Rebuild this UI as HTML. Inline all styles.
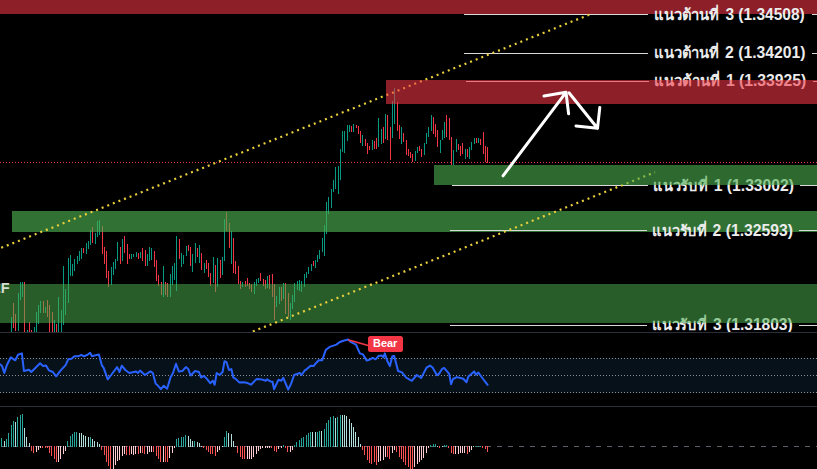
<!DOCTYPE html><html><head><meta charset="utf-8"><style>html,body{margin:0;padding:0;background:#000;width:817px;height:469px;overflow:hidden}svg{display:block;font-family:"Liberation Sans",sans-serif}</style></head><body>
<svg width="817" height="469" viewBox="0 0 817 469">
<defs><clipPath id="cm"><rect x="0" y="0" width="817" height="332"/></clipPath><clipPath id="cr"><rect x="0" y="333" width="817" height="73"/></clipPath><clipPath id="cd"><rect x="0" y="407" width="817" height="62"/></clipPath></defs>
<rect x="0" y="0" width="817" height="469" fill="#000"/>
<g clip-path="url(#cm)">
<g shape-rendering="crispEdges">
<line x1="0" y1="162.5" x2="817" y2="162.5" stroke="#f23645" stroke-width="1" stroke-dasharray="1 2"/>
<path d="M11.5 317V332M18.5 293V331M20.5 282V300M22.5 282V297M27.5 330V332M34.5 327V332M36.5 312V332M38.5 305V324M40.5 301V313M45.5 307V313M54.5 320V332M58.5 297V332M61.5 310V332M63.5 266V325M65.5 289V315M68.5 258V303M70.5 255V276M72.5 264V276M74.5 259V271M77.5 256V264M79.5 251V261M81.5 248V259M86.5 243V254M88.5 241V249M90.5 230V245M95.5 233V244M97.5 221V237M99.5 220V235M111.5 267V285M113.5 262V275M115.5 259V269M117.5 242V261M122.5 239V261M131.5 254V259M133.5 254V257M136.5 252V257M140.5 252V258M147.5 254V266M149.5 247V261M151.5 248V260M163.5 266V297M170.5 274V297M172.5 266V285M174.5 263V280M176.5 236V291M181.5 253V267M183.5 255V264M186.5 246V256M192.5 254V272M195.5 243V263M199.5 245V263M204.5 263V273M213.5 257V283M217.5 258V287M222.5 257V275M224.5 219V261M231.5 231V264M242.5 282V287M254.5 282V294M256.5 279V286M258.5 278V283M267.5 276V288M276.5 296V307M279.5 287V304M283.5 283V299M290.5 303V320M292.5 295V309M294.5 283V302M297.5 281V290M299.5 280V291M301.5 281V292M304.5 274V287M306.5 272V278M308.5 267V274M311.5 264V271M315.5 260V268M317.5 255V262M319.5 250V259M322.5 238V252M324.5 225V256M326.5 202V234M328.5 197V214M331.5 189V208M333.5 180V192M335.5 167V189M338.5 166V194M340.5 149V180M342.5 131V152M344.5 131V153M347.5 125V141M349.5 125V132M353.5 124V132M362.5 135V146M372.5 140V150M378.5 118V147M381.5 129V144M385.5 114V139M392.5 101V138M394.5 88V124M401.5 127V144M415.5 151V161M417.5 147V153M424.5 143V155M426.5 133V144M428.5 127V137M431.5 115V131M440.5 140V153M442.5 130V140M444.5 122V138M453.5 150V165M456.5 139V152M465.5 149V159M469.5 147V159M471.5 142V150M474.5 138V144M478.5 138V143" stroke="#089981" stroke-width="1" fill="none"/>
<path d="M13.5 303V328M15.5 314V331M24.5 282V332M29.5 322V332M31.5 330V332M43.5 301V313M47.5 300V317M49.5 305V332M52.5 312V332M56.5 324V332M83.5 248V253M92.5 227V243M102.5 226V254M104.5 247V264M106.5 251V278M108.5 271V287M120.5 247V264M124.5 236V253M127.5 244V264M129.5 254V259M138.5 253V259M142.5 248V261M145.5 250V266M154.5 251V267M156.5 260V281M158.5 275V286M161.5 282V295M165.5 282V295M167.5 283V297M179.5 239V259M188.5 245V251M190.5 247V266M197.5 248V257M201.5 253V270M206.5 260V269M208.5 263V277M210.5 273V286M215.5 265V292M220.5 260V278M226.5 212V231M229.5 223V248M233.5 238V273M235.5 261V274M238.5 266V284M240.5 281V289M245.5 281V287M247.5 278V286M249.5 283V289M251.5 284V292M260.5 273V281M263.5 279V286M265.5 280V289M269.5 275V289M272.5 274V297M274.5 284V320M281.5 287V301M285.5 283V314M288.5 293V317M313.5 261V266M351.5 126V132M356.5 125V128M358.5 126V134M360.5 131V143M365.5 139V146M367.5 143V154M369.5 146V150M374.5 141V149M376.5 138V149M383.5 127V143M387.5 115V140M390.5 127V160M397.5 102V131M399.5 125V139M403.5 133V142M406.5 140V155M408.5 149V156M410.5 152V158M412.5 154V162M419.5 146V151M421.5 149V157M433.5 117V134M435.5 124V137M437.5 130V147M446.5 115V137M449.5 118V140M451.5 137V165M458.5 144V150M460.5 146V156M462.5 143V154M467.5 149V157M476.5 138V143M480.5 139V145M483.5 132V154M485.5 146V162M487.5 147V163" stroke="#f23645" stroke-width="1" fill="none"/>
</g>
<rect x="12" y="211" width="805" height="21" fill="rgba(76,175,80,0.65)" shape-rendering="crispEdges"/>
<rect x="0" y="0" width="817" height="14" fill="rgba(242,54,69,0.58)" shape-rendering="crispEdges"/>
<g shape-rendering="crispEdges">
<line x1="464" y1="14.5" x2="648" y2="14.5" stroke="#d9d9d9" stroke-width="1"/>
<line x1="811.5" y1="14.5" x2="817" y2="14.5" stroke="#d9d9d9" stroke-width="1"/>
<line x1="464" y1="53.5" x2="648" y2="53.5" stroke="#d9d9d9" stroke-width="1"/>
<line x1="811.5" y1="53.5" x2="817" y2="53.5" stroke="#d9d9d9" stroke-width="1"/>
<line x1="466" y1="81.5" x2="649" y2="81.5" stroke="#d9d9d9" stroke-width="1"/>
<line x1="812.5" y1="81.5" x2="817" y2="81.5" stroke="#d9d9d9" stroke-width="1"/>
<line x1="452" y1="185.5" x2="648" y2="185.5" stroke="#d9d9d9" stroke-width="1"/>
<line x1="800" y1="185.5" x2="817" y2="185.5" stroke="#d9d9d9" stroke-width="1"/>
<line x1="450" y1="230.5" x2="647" y2="230.5" stroke="#d9d9d9" stroke-width="1"/>
<line x1="799" y1="230.5" x2="817" y2="230.5" stroke="#d9d9d9" stroke-width="1"/>
<line x1="450" y1="325.5" x2="647" y2="325.5" stroke="#d9d9d9" stroke-width="1"/>
<line x1="799" y1="325.5" x2="817" y2="325.5" stroke="#d9d9d9" stroke-width="1"/>
</g>
<g font-weight="bold" fill="#ececec">
<text x="653.9" y="20" font-size="15" textLength="65.1" lengthAdjust="spacingAndGlyphs">แนวต้านที่</text>
<text x="725.4" y="20" font-size="16" textLength="79.3" lengthAdjust="spacingAndGlyphs">3 (1.34508)</text>
<text x="653.9" y="58" font-size="15" textLength="65.1" lengthAdjust="spacingAndGlyphs">แนวต้านที่</text>
<text x="725.1" y="58" font-size="16" textLength="80.4" lengthAdjust="spacingAndGlyphs">2 (1.34201)</text>
<text x="654.0" y="86" font-size="15" textLength="65.9" lengthAdjust="spacingAndGlyphs">แนวต้านที่</text>
<text x="725.9" y="86" font-size="16" textLength="80.4" lengthAdjust="spacingAndGlyphs">1 (1.33925)</text>
<text x="653.1" y="191" font-size="15" textLength="54.6" lengthAdjust="spacingAndGlyphs">แนวรับที่</text>
<text x="713.8" y="191" font-size="16" textLength="80.1" lengthAdjust="spacingAndGlyphs">1 (1.33002)</text>
<text x="652.3" y="236" font-size="15" textLength="54.5" lengthAdjust="spacingAndGlyphs">แนวรับที่</text>
<text x="712.6" y="236" font-size="16" textLength="80.3" lengthAdjust="spacingAndGlyphs">2 (1.32593)</text>
<text x="652.0" y="330" font-size="15" textLength="54.8" lengthAdjust="spacingAndGlyphs">แนวรับที่</text>
<text x="713.1" y="330" font-size="16" textLength="79.6" lengthAdjust="spacingAndGlyphs">3 (1.31803)</text>
</g>
<rect x="0" y="284" width="817" height="39" fill="rgba(76,175,80,0.53)" shape-rendering="crispEdges"/>
<text x="-8.9" y="293" font-size="14.5" fill="#d4dcd2" font-weight="bold">EF</text>
<line x1="0" y1="248.3" x2="590" y2="14.4" stroke="#e9cf3c" stroke-width="2.2" stroke-dasharray="2 4.005" stroke-dashoffset="-1.3"/>
<line x1="240" y1="336.6" x2="655" y2="172.2" stroke="#e9cf3c" stroke-width="2.2" stroke-dasharray="2 4" stroke-dashoffset="-1.8"/>
<g shape-rendering="crispEdges">
<rect x="434" y="165" width="383" height="20" fill="rgba(76,175,80,0.6)"/>
<rect x="386" y="80" width="431" height="24" fill="rgba(242,54,69,0.58)"/>
</g>
<g stroke="#fff" stroke-width="3" stroke-linecap="round" stroke-linejoin="round" fill="none">
<path d="M503 175.8L566 92.3M544 96L566 92.3L568.6 113.8"/>
<path d="M569 92.8L597.5 128.3M576 126L597.5 128.3L599.8 107.4"/>
</g>
</g>
<g shape-rendering="crispEdges">
<rect x="0" y="332" width="817" height="1" fill="#2a2e39"/>
<rect x="0" y="406" width="817" height="1" fill="#2a2e39"/>
<rect x="0" y="358" width="817" height="35" fill="#07111a"/>
<line x1="0" y1="358.5" x2="817" y2="358.5" stroke="#8a8d96" stroke-width="1" stroke-dasharray="1 2"/>
<line x1="0" y1="375.5" x2="817" y2="375.5" stroke="#8a8d96" stroke-width="1" stroke-dasharray="1 2"/>
<line x1="0" y1="392.5" x2="817" y2="392.5" stroke="#8a8d96" stroke-width="1" stroke-dasharray="1 2"/>
</g>
<g clip-path="url(#cr)"><path d="M0.0 364.2 L2.0 366.0 L4.3 373.0 L6.9 365.0 L10.8 357.3 L15.3 360.3 L18.0 354.8 L21.9 353.4 L23.9 371.0 L29.0 369.7 L31.3 372.0 L40.1 363.2 L43.1 366.1 L46.0 365.5 L49.0 370.4 L52.9 372.0 L56.2 376.3 L60.7 370.4 L65.6 365.1 L68.2 359.3 L71.5 358.7 L74.4 356.3 L78.3 356.3 L81.3 354.8 L83.8 356.3 L87.2 355.0 L90.1 352.8 L92.0 356.3 L98.9 354.4 L101.8 365.1 L103.8 368.1 L107.7 379.4 L112.6 373.0 L117.1 367.1 L119.5 372.0 L121.8 365.7 L125.3 370.0 L129.3 373.0 L136.1 371.6 L138.1 373.0 L140.0 370.6 L144.9 375.0 L150.4 371.4 L152.8 373.0 L155.7 383.8 L157.0 384.7 L160.9 389.2 L163.8 385.7 L167.1 388.7 L170.7 376.9 L173.0 373.0 L176.0 363.8 L178.9 371.6 L182.4 371.0 L185.9 367.1 L188.3 369.1 L190.6 375.5 L195.1 371.0 L199.0 372.0 L201.0 377.5 L204.0 375.9 L206.9 378.9 L210.2 383.2 L212.8 380.8 L214.7 384.7 L216.7 373.0 L219.6 375.0 L222.6 372.0 L224.5 361.2 L226.5 362.2 L229.0 370.0 L231.4 369.1 L233.3 377.5 L235.7 378.9 L239.2 382.4 L243.1 382.2 L247.0 382.8 L251.0 384.7 L256.8 378.9 L261.7 379.4 L265.7 380.8 L267.0 379.4 L270.5 381.4 L272.5 381.8 L274.1 389.2 L278.4 379.8 L281.3 380.8 L283.3 377.9 L288.2 389.6 L291.1 383.8 L294.1 375.0 L299.9 373.0 L301.5 375.0 L304.8 370.4 L306.8 369.1 L310.7 365.7 L313.6 366.1 L315.9 363.2 L318.8 360.3 L322.1 360.3 L325.7 350.1 L329.6 346.9 L333.5 345.6 L336.4 344.6 L339.4 342.2 L343.3 340.7 L348.2 339.5 L351.1 342.2 L356.0 344.6 L359.9 353.4 L362.9 354.4 L366.8 360.6 L369.1 359.9 L372.7 357.9 L375.6 359.3 L378.5 355.9 L381.5 355.4 L383.4 357.3 L384.8 353.4 L387.4 361.2 L389.9 366.1 L392.3 356.3 L394.2 355.9 L398.1 371.0 L402.0 372.4 L406.0 377.5 L411.8 380.8 L416.7 375.0 L421.2 377.9 L426.5 367.7 L430.0 365.6 L432.6 367.5 L437.0 375.2 L439.0 373.9 L442.2 368.8 L444.1 367.9 L449.2 373.9 L451.1 384.2 L453.0 379.0 L456.9 377.1 L463.3 378.8 L466.5 382.2 L468.4 376.5 L474.2 371.4 L475.8 374.6 L478.4 372.6 L481.2 376.5 L487.6 384.8" stroke="#2962ff" stroke-width="2" fill="none" stroke-linejoin="round" stroke-linecap="round"/>
<line x1="348.1" y1="339.7" x2="369" y2="345.8" stroke="#f23645" stroke-width="1.6"/>
<rect x="368" y="336" width="35" height="16" rx="2.5" fill="#f23645"/>
<text x="373" y="346.6" font-size="11.5" font-weight="bold" fill="#fff" textLength="24.3" lengthAdjust="spacingAndGlyphs">Bear</text>
</g>
<g clip-path="url(#cd)" shape-rendering="crispEdges">
<line x1="2" y1="446.5" x2="817" y2="446.5" stroke="#5d606b" stroke-width="1" stroke-dasharray="5 6"/>
<path d="M1.5 438V447M6.5 439V447M8.5 433V447M11.5 425V447M13.5 421V447M17.5 417V447M20.5 415V447M22.5 414V447M67.5 441V447M70.5 436V447M72.5 434V447M74.5 432V447M76.5 432V447M90.5 437V447M176.5 439V447M178.5 438V447M181.5 437V447M183.5 437V447M185.5 435V447M194.5 441V447M224.5 437V447M226.5 431V447M283.5 445V447M294.5 445V447M296.5 442V447M299.5 440V447M301.5 438V447M303.5 437V447M306.5 435V447M308.5 433V447M310.5 432V447M317.5 432V447M319.5 431V447M324.5 429V447M326.5 423V447M328.5 420V447M330.5 417V447M333.5 416V447M337.5 417V447M340.5 415V447M430.5 445V447M433.5 444V447M435.5 444V447M444.5 445V447M446.5 445V447M476.5 446V447M478.5 446V447M480.5 446V447" stroke="#26a69a" stroke-width="1" fill="none"/>
<path d="M4.5 441V447M15.5 422V447M24.5 428V447M26.5 437V447M29.5 443V447M79.5 433V447M81.5 433V447M83.5 435V447M85.5 436V447M88.5 437V447M92.5 439V447M94.5 441V447M97.5 442V447M99.5 444V447M188.5 436V447M190.5 439V447M192.5 441V447M197.5 442V447M199.5 443V447M201.5 446V447M222.5 446V447M228.5 433V447M231.5 434V447M233.5 441V447M235.5 446V447M312.5 432V447M315.5 432V447M321.5 431V447M335.5 418V447M342.5 415V447M344.5 415V447M346.5 416V447M349.5 419V447M351.5 423V447M353.5 427V447M355.5 432V447M358.5 437V447M360.5 444V447M437.5 446V447M442.5 446V447M473.5 446V447" stroke="#b2dfdb" stroke-width="1" fill="none"/>
<path d="M31.5 446V451M33.5 446V453M42.5 446V448M45.5 446V448M47.5 446V448M49.5 446V453M51.5 446V456M54.5 446V459M56.5 446V462M101.5 446V450M104.5 446V455M106.5 446V462M108.5 446V466M110.5 446V470M126.5 446V455M129.5 446V455M138.5 446V454M142.5 446V453M144.5 446V454M153.5 446V452M156.5 446V456M158.5 446V459M160.5 446V462M165.5 446V462M167.5 446V462M203.5 446V448M206.5 446V450M208.5 446V452M210.5 446V454M212.5 446V454M215.5 446V456M237.5 446V453M240.5 446V457M242.5 446V459M244.5 446V459M271.5 446V448M274.5 446V451M276.5 446V452M285.5 446V448M287.5 446V452M362.5 446V450M364.5 446V455M367.5 446V460M369.5 446V463M371.5 446V464M374.5 446V462M376.5 446V465M387.5 446V457M389.5 446V459M396.5 446V452M399.5 446V457M401.5 446V459M403.5 446V462M405.5 446V465M408.5 446V467M410.5 446V470M412.5 446V470M439.5 446V448M448.5 446V448M451.5 446V453M453.5 446V454M467.5 446V454M482.5 446V448M485.5 446V449M487.5 446V452" stroke="#ff5252" stroke-width="1" fill="none"/>
<path d="M36.5 446V452M38.5 446V450M40.5 446V448M58.5 446V462M60.5 446V459M63.5 446V454M65.5 446V451M113.5 446V470M115.5 446V465M117.5 446V461M119.5 446V460M122.5 446V456M124.5 446V454M131.5 446V454M133.5 446V455M135.5 446V454M140.5 446V453M147.5 446V454M149.5 446V452M151.5 446V452M163.5 446V462M169.5 446V458M172.5 446V453M174.5 446V448M217.5 446V452M219.5 446V450M247.5 446V459M249.5 446V459M251.5 446V459M253.5 446V457M256.5 446V454M258.5 446V451M260.5 446V449M262.5 446V448M265.5 446V448M267.5 446V448M269.5 446V448M278.5 446V449M281.5 446V448M290.5 446V452M292.5 446V450M378.5 446V462M380.5 446V461M383.5 446V460M385.5 446V457M392.5 446V453M394.5 446V450M414.5 446V467M417.5 446V464M419.5 446V462M421.5 446V460M423.5 446V458M426.5 446V453M428.5 446V448M455.5 446V454M458.5 446V454M460.5 446V453M462.5 446V453M464.5 446V453M469.5 446V452M471.5 446V450" stroke="#ffcdd2" stroke-width="1" fill="none"/>
</g>
</svg></body></html>
